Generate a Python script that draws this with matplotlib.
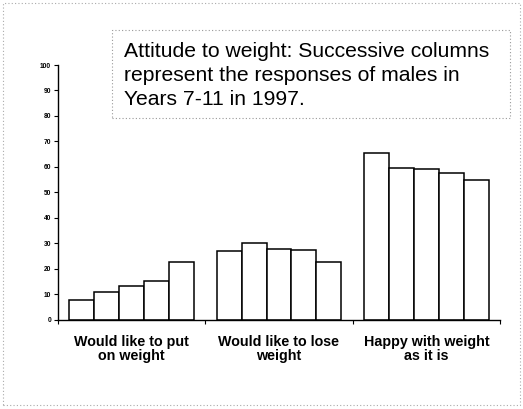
import matplotlib
matplotlib.use("Agg")
import matplotlib.pyplot as plt
from matplotlib.patches import Rectangle
import numpy as np

categories = ["Would like to put\non weight", "Would like to lose\nweight", "Happy with weight\nas it is"]
years = ["Year 7", "Year 8", "Year 9", "Year 10", "Year 11"]
values = {
    "Year 7": [7.8, 26.9, 65.3],
    "Year 8": [10.9, 30.0, 59.4],
    "Year 9": [13.3, 27.6, 59.0],
    "Year 10": [15.0, 27.3, 57.5],
    "Year 11": [22.7, 22.6, 55.0],
}
yticks = list(range(0, 101, 10))
title = "Attitude to weight: Successive columns\nrepresent the responses of males in\nYears 7-11 in 1997."

plt.rcParams['font.family'] = ['Liberation Sans', 'DejaVu Sans']
fig = plt.figure(figsize=(5.23, 4.09), dpi=100)
ax = fig.add_axes([58/523, 1-319.5/409, 442/523, (319.5-65)/409])

w = 25/148
x = np.arange(len(categories))
for j, yr in enumerate(years):
    ax.bar(x + (j-2)*w, values[yr], width=w, facecolor='white', edgecolor='black', linewidth=1.1)

ax.set_xlim(-0.5, 2.5)
ax.set_ylim(0, 100)
ax.set_yticks(yticks)
ax.set_yticklabels([str(t) for t in yticks], fontsize=4.8, fontweight='bold')
ax.tick_params(axis='y', length=3, width=0.8, pad=2)
ax.set_xticks(x)
ax.set_xticklabels(categories, fontsize=10.3, fontweight='bold', linespacing=1.02)
ax.set_xticks([-0.5, 0.5, 1.5, 2.5], minor=True)
ax.tick_params(axis='x', which='major', length=0, pad=11)
ax.tick_params(axis='x', which='minor', length=3, width=0.8)
for s in ['top', 'right']:
    ax.spines[s].set_visible(False)
ax.spines['left'].set_linewidth(1.0)
ax.spines['bottom'].set_linewidth(1.0)

# title box
fig.patches.append(Rectangle((112/523, 1-118/409), 398/523, 88/409, transform=fig.transFigure,
                             fill=False, edgecolor='#999999', linestyle=(0, (1, 2)), linewidth=0.8))
fig.text(124/523, 1-42/409, title, fontsize=15.2, va='top', ha='left', linespacing=1.32)

# figure dotted frame
fig.patches.append(Rectangle((3/523, 4/409), 517/523, 402/409, transform=fig.transFigure,
                             fill=False, edgecolor='#aaaaaa', linestyle=(0, (1, 2)), linewidth=0.8))

fig.savefig("out.png", dpi=100)
